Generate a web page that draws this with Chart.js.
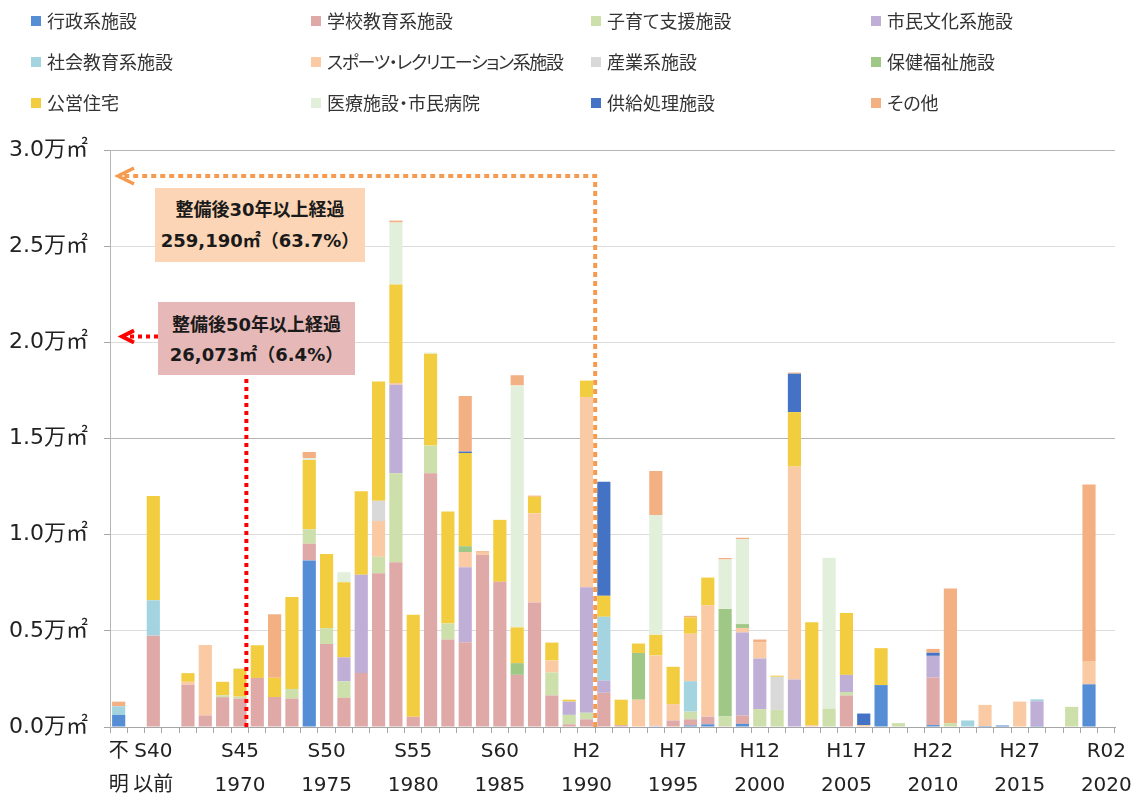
<!DOCTYPE html>
<html><head><meta charset="utf-8">
<script src="https://cdn.jsdelivr.net/npm/chart.js@4.4.1/dist/chart.umd.min.js"></script>
<style>
html,body{margin:0;padding:0;background:#fff;}
#wrap{position:relative;width:1141px;height:803px;font-family:"Noto Sans CJK JP","DejaVu Sans",sans-serif;}
#c{position:absolute;left:0;top:0;}
.lg{position:absolute;font-size:18px;color:#333;white-space:nowrap;line-height:20px;height:20px;font-feature-settings:"palt";}
.lg i{position:absolute;left:0;top:5px;width:10px;height:10px;}
.lg span{position:absolute;left:16px;top:-1px;}
.lg.long span{letter-spacing:-1.4px;}
.box{position:absolute;font-weight:bold;font-size:18px;color:#1a1a1a;text-align:center;box-sizing:border-box;font-family:"DejaVu Sans","Noto Sans CJK JP",sans-serif;white-space:nowrap;}
</style></head>
<body><div id="wrap"><canvas id="c" width="1141" height="803"></canvas>
<div class="box" id="b30" style="left:155px;top:188px;width:210px;height:74px;background:#fbd5b5;padding-top:6px;line-height:31px;"></div>
<div class="box" id="b50" style="left:158px;top:302px;width:197px;height:73px;background:#e6b9b8;padding-top:8px;line-height:30px;"></div>
</div>
<script>
// ---- data (単位: 万㎡) ----
const categories = ['不明','','S40以前','S41','S42','S43','S44','S45','S46','S47','S48','S49','S50','S51','S52','S53','S54','S55','S56','S57','S58','S59','S60','S61','S62','S63','H1','H2','H3','H4','H5','H6','H7','H8','H9','H10','H11','H12','H13','H14','H15','H16','H17','H18','H19','H20','H21','H22','H23','H24','H25','H26','H27','H28','H29','H30','R01','R02'];
const tickTop    = {0:'不',2:'S40',7:'S45',12:'S50',17:'S55',22:'S60',27:'H2',32:'H7',37:'H12',42:'H17',47:'H22',52:'H27',57:'R02'};
const tickBottom = {0:'明',2:'以前',7:'1970',12:'1975',17:'1980',22:'1985',27:'1990',32:'1995',37:'2000',42:'2005',47:'2010',52:'2015',57:'2020'};
const yTicks = [0,0.5,1.0,1.5,2.0,2.5,3.0];

const seriesNames = ['行政系施設','学校教育系施設','子育て支援施設','市民文化系施設','社会教育系施設','スポーツ・レクリエーション系施設','産業系施設','保健福祉施設','公営住宅','医療施設・市民病院','供給処理施設','その他'];

const gyosei = [0.063,0,0,0,0,0,0,0,0,0, 0,0.866,0,0,0,0,0,0,0,0, 0,0,0,0,0,0,0,0,0,0, 0,0,0,0.008,0.014,0,0.016,0,0,0, 0,0,0,0,0.218,0,0,0.01,0,0, 0.005,0.008,0,0.005,0,0,0.222,0];
const gakko = [0,0,0.475,0,0.22,0.06,0.155,0.148,0.255,0.156, 0.148,0.087,0.431,0.152,0.281,0.80,0.856,0.053,1.319,0.455, 0.441,0.894,0.755,0.271,0.647,0.164,0.014,0.04,0.178,0.01, 0,0,0.034,0.032,0.04,0.004,0.044,0,0,0, 0,0,0.164,0,0,0,0,0.247,0,0, 0,0,0,0,0,0,0,0];
const kosodate = [0,0,0,0,0,0,0.01,0.01,0,0, 0.05,0.075,0.083,0.085,0,0.085,0.463,0,0.144,0.083, 0,0,0,0,0,0.119,0.049,0.034,0,0, 0,0,0,0.04,0,0.05,0,0.093,0.089,0, 0,0.095,0.018,0,0,0.02,0,0,0.02,0, 0,0,0,0,0,0.105,0,0];
const shimin = [0,0,0,0,0,0,0,0,0,0, 0,0,0,0.125,0.51,0,0.46,0,0,0, 0.39,0,0,0,0,0,0.069,0.653,0.063,0, 0,0.006,0,0,0,0,0.431,0.263,0,0.247, 0,0,0.089,0,0,0,0,0.113,0,0, 0,0,0,0.129,0,0,0,0];
const shakai = [0.045,0,0.184,0,0,0,0,0,0,0, 0,0,0,0,0,0,0,0,0,0, 0,0,0,0,0,0,0,0,0.332,0, 0,0,0,0.158,0,0,0,0,0,0, 0,0,0,0,0,0,0,0,0,0.034, 0,0,0,0.01,0,0,0,0];
const sports = [0,0,0,0,0.015,0.366,0,0,0,0, 0,0,0,0,0,0.186,0.01,0,0,0, 0.079,0.012,0,0,0.465,0.063,0,0.989,0,0, 0.142,0.366,0.085,0.247,0.579,0,0.024,0.085,0,1.107, 0.01,0,0,0.01,0,0,0,0,0,0, 0.11,0,0.132,0,0,0,0.121,0];
const sangyo = [0,0,0,0,0,0,0,0,0,0, 0,0,0,0,0,0.105,0,0,0,0, 0,0,0,0,0,0,0,0,0,0, 0,0,0,0,0,0,0,0,0.172,0, 0,0,0,0,0,0,0,0,0,0, 0,0,0,0,0,0,0,0];
const hoken = [0,0,0,0,0,0,0,0,0,0, 0,0,0,0,0,0,0,0,0,0, 0.03,0,0,0.061,0,0,0,0,0,0, 0.243,0,0,0,0,0.56,0.02,0,0,0, 0,0,0,0,0,0,0,0,0,0, 0,0,0,0,0,0,0,0];
const juutaku = [0,0,0.542,0,0.045,0,0.07,0.144,0.17,0.10, 0.478,0.36,0.386,0.39,0.435,0.62,0.512,0.53,0.478,0.583, 0.484,0,0.322,0.186,0.085,0.093,0.01,0.085,0.109,0.132, 0.049,0.107,0.194,0.085,0.144,0,0,0,0.006,0.283, 0.534,0,0.322,0,0.192,0,0,0,0,0, 0,0,0,0,0,0,0,0];
const iryo = [0,0,0,0,0,0,0,0.005,0,0, 0,0.01,0,0.053,0,0,0.322,0,0.006,0, 0,0,0,1.258,0,0,0,0,0,0, 0,0.623,0,0,0,0.257,0.441,0,0,0, 0,0.785,0,0,0,0,0,0,0,0, 0,0,0,0,0,0,0,0];
const kyokyu = [0,0,0,0,0,0,0,0,0,0, 0,0,0,0,0,0,0,0,0,0, 0.008,0,0,0,0,0,0,0,0.593,0, 0,0,0,0,0,0,0,0,0,0.20, 0,0,0,0.06,0,0,0,0.016,0,0, 0,0,0,0,0,0,0,0];
const sonota = [0.024,0,0,0,0,0,0,0,0,0.33, 0,0.032,0,0,0,0,0.01,0,0,0, 0.289,0.008,0,0.053,0.006,0,0,0,0,0, 0,0.229,0,0.008,0,0.008,0.008,0.014,0,0.006, 0,0,0,0,0,0,0,0.02,0.70,0, 0,0,0,0,0,0,0.918,0];

const note30 = ['整備後30年以上経過','259,190㎡（63.7%）'];
const note50 = ['整備後50年以上経過','26,073㎡（6.4%）'];

// ---- styles ----
const seriesData = [gyosei,gakko,kosodate,shimin,shakai,sports,sangyo,hoken,juutaku,iryo,kyokyu,sonota];
const colors = ['#558ed5','#dea9a7','#cddfab','#bfaed6','#a4d4e0','#f9caa3','#d9d9d9','#9fc785','#f2cd40','#e2efda','#4472c4','#f3b083'];
const FONT = '"DejaVu Sans","Noto Sans CJK JP",sans-serif';

// legend (HTML)
const wrap = document.getElementById('wrap');
seriesNames.forEach((n,i)=>{
  const d=document.createElement('div');d.className='lg'+(n.length>12?' long':'');
  d.style.left=(31+(i%4)*280)+'px';d.style.top=(11+Math.floor(i/4)*41)+'px';
  d.innerHTML='<i style="background:'+colors[i]+'"></i><span>'+n+'</span>';
  wrap.appendChild(d);
});
document.getElementById('b30').innerHTML=note30.join('<br>');
document.getElementById('b50').innerHTML=note50.join('<br>');

const annot = {
  id:'annot',
  afterDatasetsDraw(chart){
    const {ctx,scales:{x,y},chartArea:a}=chart;
    const step = x.getPixelForValue(1)-x.getPixelForValue(0);
    ctx.save();
    // orange (30 years)
    const ox = x.getPixelForValue(27)+step/2;
    const oy = y.getPixelForValue(2.865);
    ctx.strokeStyle='#f59a4f';ctx.lineWidth=4;ctx.setLineDash([5,4]);
    ctx.beginPath();ctx.moveTo(ox,a.bottom);ctx.lineTo(ox,oy);ctx.lineTo(a.left+12,oy);ctx.stroke();
    ctx.setLineDash([]);ctx.lineWidth=3.5;
    ctx.beginPath();ctx.moveTo(a.left+24,oy-8);ctx.lineTo(a.left+8,oy);ctx.lineTo(a.left+24,oy+8);ctx.stroke();
    // red (50 years)
    const rx = x.getPixelForValue(7)+step*0.37;
    const ry = y.getPixelForValue(2.03);
    ctx.strokeStyle='#ff0000';ctx.lineWidth=4;ctx.setLineDash([4,4]);
    ctx.beginPath();ctx.moveTo(rx,a.bottom);ctx.lineTo(rx,375);ctx.stroke();
    ctx.beginPath();ctx.moveTo(158,ry);ctx.lineTo(a.left+16,ry);ctx.stroke();
    ctx.setLineDash([]);ctx.lineWidth=4;
    ctx.beginPath();ctx.moveTo(a.left+24,ry-6);ctx.lineTo(a.left+12,ry);ctx.lineTo(a.left+24,ry+6);ctx.stroke();
    ctx.restore();
  }
};

new Chart(document.getElementById('c'),{
  type:'bar',
  data:{labels:categories,datasets:seriesNames.map((n,i)=>({label:n,data:seriesData[i],backgroundColor:colors[i],borderWidth:0,categoryPercentage:1,barPercentage:0.76}))},
  options:{
    responsive:false,animation:false,devicePixelRatio:1,
    layout:{padding:{left:0,right:26,top:150,bottom:0}},
    plugins:{legend:{display:false},tooltip:{enabled:false}},
    scales:{
      x:{stacked:true,
        grid:{offset:true,drawOnChartArea:false,tickLength:6,color:'#a6a6a6'},
        border:{color:'#a6a6a6'},
        ticks:{autoSkip:false,maxRotation:0,minRotation:0,padding:2,color:'#222',
          font:{family:FONT,size:20,lineHeight:1.7},
          callback:(v,i)=> tickTop[i]!==undefined ? [tickTop[i],tickBottom[i]] : ''},
        afterFit:s=>{s.height=76;}
      },
      y:{stacked:true,min:0,max:3,
        afterBuildTicks:s=>{s.ticks=yTicks.map(v=>({value:v}));},
        ticks:{padding:16,color:'#222',font:{family:FONT,size:22},callback:v=>Number(v).toFixed(1)+'万㎡'},
        grid:{tickLength:6,tickColor:'#a6a6a6',color:c=>(c.tick&&(c.tick.value===1.5||c.tick.value===3))?'#b5b5b5':'#dcdcdc'},
        border:{color:'#b5b5b5'},
        afterFit:s=>{s.width=110;}
      }
    }
  },
  plugins:[annot]
});
</script></body></html>
